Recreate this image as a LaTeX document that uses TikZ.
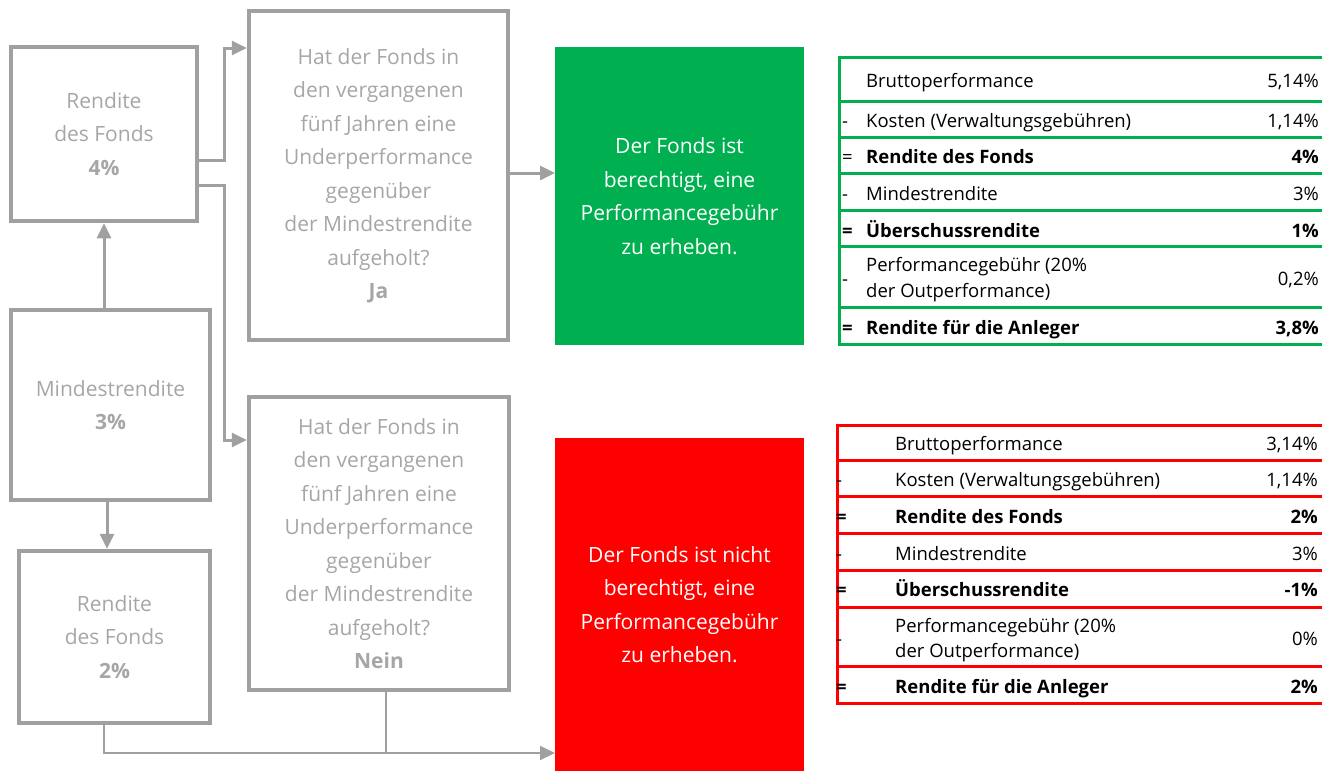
\documentclass[tikz,border=0pt]{standalone}
\usepackage{fontspec}
\setmainfont{Open Sans}
\usetikzlibrary{arrows.meta}
\definecolor{boxgray}{HTML}{A0A0A0}
\definecolor{txtgray}{HTML}{A6A6A6}
\definecolor{okgreen}{HTML}{00B050}
\definecolor{nored}{HTML}{FF0000}
\begin{document}
\begin{tikzpicture}[x=1pt,y=-1pt,
  graybox/.style={draw=boxgray, line width=4.5pt, inner sep=0pt, text=txtgray, align=center,
    font=\fontsize{21}{33.5}\selectfont},
  resbox/.style={inner sep=0pt, outer sep=0pt, text=white, align=center,
    font=\fontsize{21}{33.5}\selectfont},
  conn/.style={draw=boxgray, line width=3pt, -{Triangle[length=15pt,width=14pt]}},
  connthin/.style={draw=boxgray, line width=2pt},
  gline/.style={draw=okgreen, line width=3pt},
  rline/.style={draw=nored, line width=3pt},
  cell/.style={inner sep=0pt, text=black, font=\fontsize{18.5}{26}\selectfont},
  rcell/.style={inner sep=0pt, text=black, font=\fontsize{18.5}{25}\selectfont}]
\useasboundingbox (0,0) rectangle (1322,771);

% boxes
\node[graybox,minimum width=186pt,minimum height=174pt] (b1) at (104,134)
  {Rendite\\des Fonds\\\textbf{4\%}};
\node[graybox,minimum width=259pt,minimum height=329pt] (q1) at (378.5,175.5)
  {Hat der Fonds in\\den vergangenen\\fünf Jahren eine\\Underperformance\\gegenüber\\der Mindestrendite\\aufgeholt?\\\textbf{Ja}};
\node[graybox,minimum width=199pt,minimum height=190pt] (b2) at (110.5,405)
  {Mindestrendite\\\textbf{3\%}};
\node[graybox,minimum width=191pt,minimum height=172pt] (b3) at (114.5,637)
  {Rendite\\des Fonds\\\textbf{2\%}};
\node[graybox,minimum width=260pt,minimum height=293pt] (q2) at (379,543.5)
  {Hat der Fonds in\\den vergangenen\\fünf Jahren eine\\Underperformance\\gegenüber\\der Mindestrendite\\aufgeholt?\\\textbf{Nein}};
\node[resbox,fill=okgreen,minimum width=249pt,minimum height=298pt] (ok) at (679.5,196)
  {Der Fonds ist\\berechtigt, eine\\Performancegebühr\\zu erheben.};
\node[resbox,fill=nored,minimum width=249pt,minimum height=333pt] (no) at (679.5,604.5)
  {Der Fonds ist nicht\\berechtigt, eine\\Performancegebühr\\zu erheben.};

% connectors
\coordinate (s1) at ([yshift=-26pt]b1.east);
\coordinate (s2) at ([yshift=-51pt]b1.east);
\coordinate (t1) at ([yshift=127.5pt]q1.west);
\coordinate (t2) at ([yshift=103.5pt]q2.west);
\draw[conn] (s1) -- ++(25,0) |- (t1);
\draw[conn] (s2) -- ++(25,0) |- (t2);
\coordinate (s3) at ([yshift=2.5pt]q1.east);
\draw[conn] (s3) -- (s3 -| ok.west);
\coordinate (s4) at ([xshift=-6.5pt]b2.north);
\draw[conn] (s4) -- (s4 |- b1.south);
\coordinate (s5) at ([xshift=-3.5pt]b2.south);
\draw[conn] (s5) -- (s5 |- b3.north);
\coordinate (s6) at ([xshift=-10.5pt]b3.south);
\coordinate (t6) at ([yshift=-148.5pt]no.west);
\draw[connthin,-{Triangle[length=15pt,width=14pt]}] (s6) |- (t6);
\coordinate (s7) at ([xshift=7pt]q2.south);
\draw[connthin] (s7) -- (s7 |- t6);

% green table
\foreach \yy in {57,101,137,173,210,246,307,344} \draw[gline] (839,\yy) -- (1322,\yy);
\draw[gline] (839,55.5) -- (839,345.5);
\node[cell,anchor=base west] (g1l) at (866,87.3) {Bruttoperformance};
\node[cell,anchor=base east] (g1v) at (1319,87.3) {5,14\%};
\node[cell,anchor=base west] (g2s) at (842,127.3) {-};
\node[cell,anchor=base west] (g2l) at (866,127.3) {Kosten (Verwaltungsgebühren)};
\node[cell,anchor=base east] (g2v) at (1319,127.3) {1,14\%};
\node[cell,anchor=base west] (g3s) at (842,163.3) {=};
\node[cell,anchor=base west] (g3l) at (866,163.3) {\textbf{Rendite des Fonds}};
\node[cell,anchor=base east] (g3v) at (1319,163.3) {\textbf{4\%}};
\node[cell,anchor=base west] (g4s) at (842,200.7) {-};
\node[cell,anchor=base west] (g4l) at (866,200.7) {Mindestrendite};
\node[cell,anchor=base east] (g4v) at (1319,200.7) {3\%};
\node[cell,anchor=base west] (g5s) at (842,237.3) {\textbf{=}};
\node[cell,anchor=base west] (g5l) at (866,237.3) {\textbf{Überschussrendite}};
\node[cell,anchor=base east] (g5v) at (1319,237.3) {\textbf{1\%}};
\node[cell,anchor=base west] (g6s) at (842,285) {-};
\node[cell,anchor=west,align=left] (g6l) at (866,280) {Performancegebühr (20\%\\der Outperformance)};
\node[cell,anchor=base east] (g6v) at (1319,285) {0,2\%};
\node[cell,anchor=base west] (g7s) at (842,334) {\textbf{=}};
\node[cell,anchor=base west] (g7l) at (866,334) {\textbf{Rendite für die Anleger}};
\node[cell,anchor=base east] (g7v) at (1319,334) {\textbf{3,8\%}};

% red table
\foreach \yy in {425,460,496,533,570,607,666,703} \draw[rline] (837,\yy) -- (1322,\yy);
\draw[rline] (837,423.5) -- (837,704.5);
\node[rcell,anchor=base west] (r1l) at (895,450) {Bruttoperformance};
\node[rcell,anchor=base east] (r1v) at (1318,450) {3,14\%};
\node[rcell,anchor=base west] (r2s) at (836,486.7) {-};
\node[rcell,anchor=base west] (r2l) at (895,486.7) {Kosten (Verwaltungsgebühren)};
\node[rcell,anchor=base east] (r2v) at (1318,486.7) {1,14\%};
\node[rcell,anchor=base west] (r3s) at (836,523.3) {\textbf{=}};
\node[rcell,anchor=base west] (r3l) at (895,523.3) {\textbf{Rendite des Fonds}};
\node[rcell,anchor=base east] (r3v) at (1318,523.3) {\textbf{2\%}};
\node[rcell,anchor=base west] (r4s) at (836,560.7) {-};
\node[rcell,anchor=base west] (r4l) at (895,560.7) {Mindestrendite};
\node[rcell,anchor=base east] (r4v) at (1318,560.7) {3\%};
\node[rcell,anchor=base west] (r5s) at (836,596.7) {\textbf{=}};
\node[rcell,anchor=base west] (r5l) at (895,596.7) {\textbf{Überschussrendite}};
\node[rcell,anchor=base east] (r5v) at (1318,596.7) {\textbf{-1\%}};
\node[rcell,anchor=base west] (r6s) at (836,645) {-};
\node[rcell,anchor=west,align=left] (r6l) at (895,639.8) {Performancegebühr (20\%\\der Outperformance)};
\node[rcell,anchor=base east] (r6v) at (1318,645) {0\%};
\node[rcell,anchor=base west] (r7s) at (836,693.3) {\textbf{=}};
\node[rcell,anchor=base west] (r7l) at (895,693.3) {\textbf{Rendite für die Anleger}};
\node[rcell,anchor=base east] (r7v) at (1318,693.3) {\textbf{2\%}};
\end{tikzpicture}
\end{document}
